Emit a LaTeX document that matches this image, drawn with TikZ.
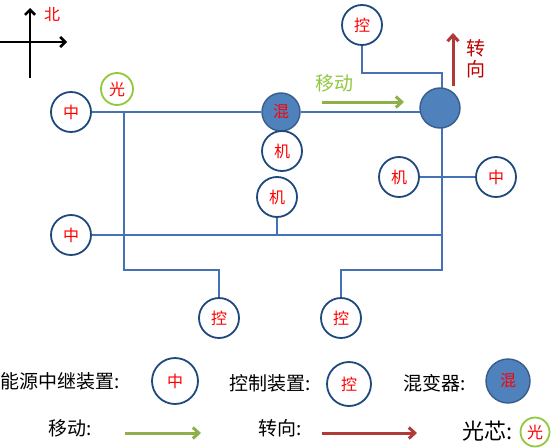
\documentclass[tikz,border=0pt]{standalone}
\usepackage{fontspec}
\setmainfont{Noto Sans CJK SC}
\usetikzlibrary{arrows.meta}
\pgfdeclarelayer{paper}
\pgfdeclarelayer{wires}
\pgfsetlayers{paper,wires,main}
\definecolor{lineblue}{HTML}{4472B4}
\definecolor{ringblue}{HTML}{1F497D}
\definecolor{fillblue}{HTML}{4F81BD}
\definecolor{edgeblue}{HTML}{385D8A}
\definecolor{lgreen}{HTML}{92C83E}
\definecolor{agreen}{HTML}{8EB04A}
\definecolor{dred}{HTML}{B03A38}
\definecolor{tred}{HTML}{C00000}
\tikzset{
  ring/.style={circle,draw=ringblue,line width=1.8pt,fill=white,minimum size=40pt,inner sep=0pt,text=red,font=\fontsize{16}{16}\selectfont},
  hub/.style={circle,draw=edgeblue,line width=1.4pt,fill=fillblue,minimum size=38pt,inner sep=0pt,text=red,font=\fontsize{16}{16}\selectfont},
  gring/.style={circle,draw=lgreen,line width=1.8pt,fill=white,minimum size=32pt,inner sep=0pt,text=red,font=\fontsize{16}{16}\selectfont},
  wire/.style={draw=lineblue,line width=2.8pt},
  legend/.style={font=\fontsize{19}{19}\selectfont,text=black,inner sep=0pt},
  garrow/.style={draw=agreen,line width=3pt,-{Straight Barb[length=6pt,width=11pt]}},
  rarrow/.style={draw=dred,line width=3pt,-{Straight Barb[length=6pt,width=11pt]}},
  karrow/.style={draw=black,line width=2.6pt,-{Straight Barb[length=5pt,width=10pt]}}
}
\begin{document}
\begin{tikzpicture}[x=1pt,y=-1pt]
\begin{pgfonlayer}{paper}
\fill[white] (0,0) rectangle (554,447);
\end{pgfonlayer}
\useasboundingbox (0,0) rectangle (554,447);
% compass
\coordinate (cs) at (30,78);
\coordinate (cn) at (30,8);
\coordinate (cw) at (0,42);
\coordinate (ce) at (67,42);
\draw[karrow] (cs) -- (cn);
\draw[karrow] (cw) -- (ce);
\node[text=red,font=\fontsize{16}{16}\selectfont] (north) at (52,14) {北};
% nodes
\node[ring] (z1) at (71,112) {中};
\node[gring] (g1) at (117,89) {光};
\node[hub] (h1) at (281,112) {混};
\node[ring] (m1) at (282,151) {机};
\node[ring] (m2) at (277,197) {机};
\node[ring] (k1) at (362,25) {控};
\node[hub,minimum size=40pt] (h2) at (440,108) {};
\node[ring] (z2) at (71,235) {中};
\node[ring] (k2) at (219,318) {控};
\node[ring] (k3) at (341,318) {控};
\node[ring] (m3) at (399,177) {机};
\node[ring] (z3) at (496,177) {中};
% junctions
\coordinate (j1) at (124,112);
\coordinate (j2) at (124,270);
\coordinate (j3) at (219,270);
\coordinate (j4) at (442,235);
\coordinate (j5) at (442,270);
\coordinate (j6) at (341,270);
\coordinate (j8) at (277,235);
\coordinate (j9) at (362,73);
\coordinate (j10) at (442,73);
% wires
\begin{pgfonlayer}{wires}
\draw[wire] (z1) -- (h1);
\draw[wire] (h1) -- (h2 |- h1);
\draw[wire] (j1) -- (j2) -- (j3) -- (k2);
\draw[wire] (z2) -- (j4);
\draw[wire] (m2) -- (j8);
\draw[wire] (h2 -| j4) -- (j5) -- (j6) -- (k3);
\draw[wire] (m3) -- (z3);
\draw[wire] (k1) -- (j9) -- (j10) -- (h2 -| j10);
\end{pgfonlayer}
% motion labels
\node[text=lgreen,font=\fontsize{19}{19}\selectfont] (mv) at (334,83) {移动};
\coordinate (ga) at (322,102);
\coordinate (gb) at (404,102);
\draw[garrow] (ga) -- (gb);
\coordinate (ra) at (453,86);
\coordinate (rb) at (453,33);
\draw[rarrow] (ra) -- (rb);
\node[text=tred,font=\fontsize{19}{19}\selectfont,align=center] (turn) at (476,59) {转\\[2pt]向};
% legend
\node[legend,anchor=west] (l1) at (0,381) {能源中继装置:};
\node[ring,minimum size=46pt] (lz) at (175,381) {中};
\node[legend,anchor=west] (l2) at (229,383) {控制装置:};
\node[ring,minimum size=44pt] (lk) at (349,384) {控};
\node[legend,anchor=west] (l3) at (403,383) {混变器:};
\node[hub,minimum size=44pt] (lh) at (508,381) {混};
\node[legend,anchor=west] (l4) at (48,428) {移动:};
\coordinate (la1) at (125,433);
\coordinate (la2) at (201,433);
\draw[garrow] (la1) -- (la2);
\node[legend,anchor=west] (l5) at (258,428) {转向:};
\coordinate (lb1) at (322,433);
\coordinate (lb2) at (417,433);
\draw[rarrow] (lb1) -- (lb2);
\node[legend,anchor=west,font=\fontsize{22}{22}\selectfont] (l6) at (462,431) {光芯:};
\node[gring,minimum size=29pt] (lg) at (535,432) {光};
\end{tikzpicture}
\end{document}
